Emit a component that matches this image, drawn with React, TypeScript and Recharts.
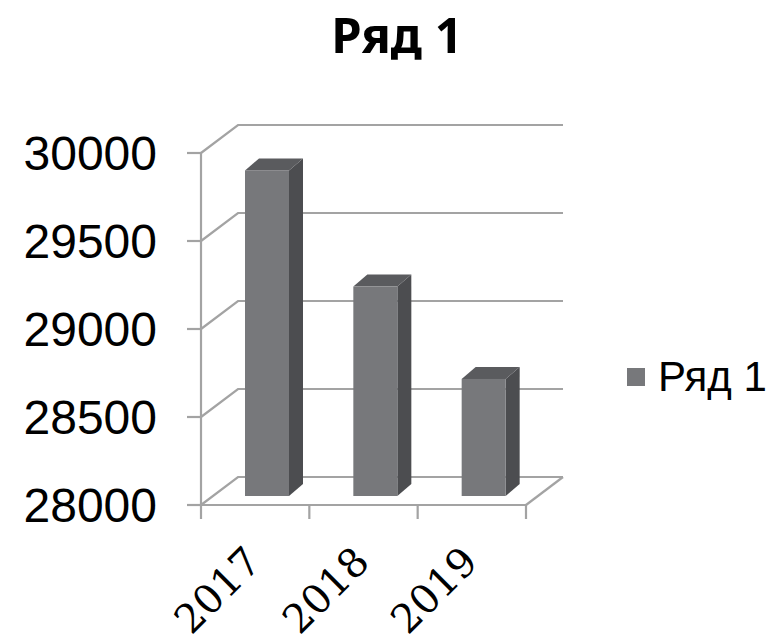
import React from 'react';
import { BarChart, Bar, XAxis, YAxis, CartesianGrid, Legend, Customized } from 'recharts';

const categories = ['2017', '2018', '2019'];
const seriesValues = [29850, 29190, 28665];
const yTicks = [28000, 28500, 29000, 29500, 30000];
const seriesName = 'Ряд 1';
const chartTitle = 'Ряд 1';

const data = categories.map((c, i) => ({ year: c, value: seriesValues[i] }));

const WALL_DX = 37;
const WALL_DY = 28;
const BAR_SHIFT_X = 12;
const BAR_SHIFT_Y = 9;
const BAR_DEPTH_X = 14;
const BAR_DEPTH_Y = 12;
const GRID = '#a3a3a3';
const FRONT = '#77787b';
const SIDE = '#4c4d50';
const TOP = '#5a5b5e';

function Bar3D(props: any) {
  const { x, y, width, height } = props;
  if (x == null || y == null) return null;
  const fx = x + BAR_SHIFT_X;
  const fy = y - BAR_SHIFT_Y;
  const h = height;
  const dx = BAR_DEPTH_X;
  const dy = BAR_DEPTH_Y;
  return (
    <g>
      <polygon
        points={`${fx + width},${fy} ${fx + width + dx},${fy - dy} ${fx + width + dx},${fy + h - dy} ${fx + width},${fy + h}`}
        fill={SIDE}
      />
      <polygon
        points={`${fx},${fy} ${fx + dx},${fy - dy} ${fx + width + dx},${fy - dy} ${fx + width},${fy}`}
        fill={TOP}
      />
      <rect x={fx} y={fy} width={width} height={h} fill={FRONT} />
    </g>
  );
}

function GridLine(props: any) {
  const { x1, y1, x2 } = props;
  return (
    <path
      key={props.key}
      d={`M${x1},${y1} L${x1 + WALL_DX},${y1 - WALL_DY} L${x2 + WALL_DX},${y1 - WALL_DY}`}
      stroke={GRID}
      strokeWidth={2.2}
      fill="none"
    />
  );
}

function YTick(props: any) {
  const { x, y, payload } = props;
  return (
    <text
      x={x}
      y={y}
      dy="0.355em"
      textAnchor="end"
      fontFamily="'Liberation Sans', Arial, sans-serif"
      fontSize={48}
      fill="#000"
    >
      {payload.value}
    </text>
  );
}

function XTick(props: any) {
  const { x, y, payload, index, width } = props;
  const half = payload && payload.offset ? payload.offset : width / (categories.length * 2);
  const last = index === categories.length - 1;
  const lx = x + 8;
  const ly = y + 59;
  return (
    <g>
      <line x1={x - half} y1={y} x2={x - half} y2={y + 14} stroke={GRID} strokeWidth={2.2} />
      {last && (
        <>
          <line x1={x + half} y1={y} x2={x + half} y2={y + 14} stroke={GRID} strokeWidth={2.2} />
          <line x1={x + half} y1={y} x2={x + half + WALL_DX} y2={y - WALL_DY} stroke={GRID} strokeWidth={2.2} />
        </>
      )}
      <text
        x={lx}
        y={ly}
        textAnchor="end"
        transform={`rotate(-45 ${lx} ${ly})`}
        fontFamily="'DejaVu Serif', 'Liberation Serif', serif"
        fontSize={40}
        fill="#000"
      >
        {payload.value}
      </text>
    </g>
  );
}

function LegendContent() {
  return (
    <div style={{ display: 'flex', alignItems: 'center', lineHeight: 1 }}>
      <span style={{ display: 'inline-block', width: 18, height: 18, background: FRONT, marginRight: 13 }} />
      <span style={{ fontFamily: "'Liberation Sans', Arial, sans-serif", fontSize: 42, color: '#000' }}>{seriesName}</span>
    </div>
  );
}

function Title() {
  return (
    <text
      x={397}
      y={53}
      textAnchor="middle"
      fontFamily="'Noto Sans', sans-serif"
      fontWeight={700}
      fontSize={49}
      fill="#000"
    >
      {chartTitle}
    </text>
  );
}

export default function App() {
  return (
    <div style={{ position: 'absolute', left: 0, top: 0, width: 771, height: 641, background: '#fff' }}>
      <BarChart
        width={771}
        height={641}
        data={data}
        margin={{ top: 153, right: 245, bottom: 76, left: 0 }}
        barSize={44}
      >
        <CartesianGrid vertical={false} horizontal={(p: any) => <GridLine {...p} />} />
        <XAxis
          dataKey="year"
          height={60}
          tickSize={0}
          tickMargin={0}
          tickLine={false}
          axisLine={{ stroke: GRID, strokeWidth: 2.2 }}
          tick={<XTick />}
          interval={0}
        />
        <YAxis
          width={201}
          domain={[28000, 30000]}
          ticks={yTicks}
          interval={0}
          tickSize={14}
          tickMargin={30}
          axisLine={{ stroke: GRID, strokeWidth: 2.2 }}
          tickLine={{ stroke: GRID, strokeWidth: 2.2 }}
          tick={<YTick />}
          allowDataOverflow
        />
        <Legend
          layout="vertical"
          align="center"
          verticalAlign="middle"
          content={<LegendContent />}
          wrapperStyle={{ left: 627, top: 356, width: 144 }}
        />
        <Bar dataKey="value" name={seriesName} shape={<Bar3D />} isAnimationActive={false} />
        <Customized component={Title} />
      </BarChart>
    </div>
  );
}
